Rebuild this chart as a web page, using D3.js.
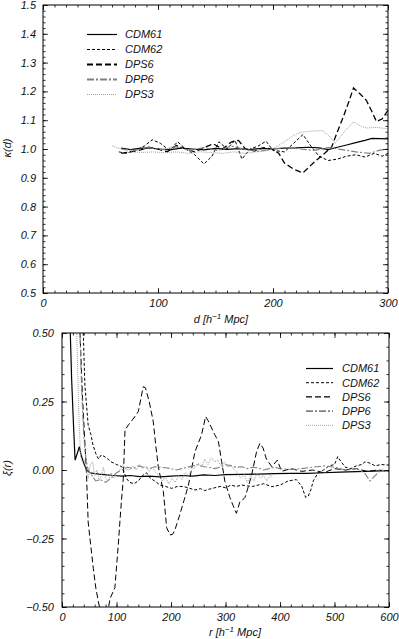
<!DOCTYPE html>
<html>
<head>
<meta charset="utf-8">
<script src="https://cdn.jsdelivr.net/npm/d3@7"></script>
<style>
  body { margin: 0; background: #fff; }
  svg text { font-family: "Liberation Sans", Arial, sans-serif; font-style: italic; font-size: 11px; fill: #111; }
</style>
</head>
<body>
<svg id="chart" width="399" height="639"></svg>
<script>
const seriesNames = ["CDM61", "CDM62", "DPS6", "DPP6", "DPS3"];

// top panel: kappa(d), pairs of [d, kappa]
const topCDM61 = [[68,1.003],[76,0.998],[84,1.002],[92,1.004],[100,1.0],[110,0.997],[120,1.003],[130,1.0],[140,0.997],[150,1.002],[160,0.999],[170,1.001],[180,0.998],[190,1.002],[200,1.0],[210,1.003],[220,1.004],[230,1.006],[240,1.004],[248,0.998],[256,1.006],[264,1.014],[272,1.022],[280,1.03],[286,1.037],[293,1.036],[300,1.035]];
const topCDM62 = [[66,0.99],[72,0.985],[80,0.995],[88,1.01],[95,1.032],[102,1.02],[110,0.995],[117,1.025],[124,1.0],[132,0.98],[140,0.948],[147,0.975],[153,1.025],[160,1.0],[167,1.03],[173,0.965],[180,1.0],[187,1.01],[194,1.027],[200,0.995],[210,0.99],[218,1.02],[226,1.05],[233,1.01],[240,0.975],[248,0.96],[256,0.965],[264,0.975],[272,0.98],[280,0.972],[288,0.985],[295,0.975],[300,0.985]];
const topDPS6 = [[68,0.985],[76,0.99],[84,0.996],[92,1.006],[100,1.0],[108,0.99],[116,1.012],[124,1.0],[132,0.99],[140,1.005],[148,1.018],[156,1.0],[164,1.025],[170,1.03],[176,1.0],[184,0.993],[192,1.005],[200,0.998],[205,0.985],[210,0.951],[218,0.93],[226,0.917],[232,0.94],[238,0.962],[245,0.985],[251,1.007],[256,1.06],[261,1.11],[266,1.165],[270,1.212],[276,1.19],[281,1.17],[286,1.13],[290,1.095],[295,1.105],[300,1.135]];
const topDPP6 = [[68,1.0],[80,0.995],[92,1.005],[104,0.998],[116,1.008],[128,0.995],[140,1.005],[152,0.995],[164,1.01],[176,0.998],[188,0.992],[200,1.0],[212,1.005],[224,1.0],[236,0.995],[248,1.005],[260,0.998],[272,0.99],[284,0.985],[292,0.995],[300,1.0]];
const topDPS3 = [[60,1.011],[68,1.0],[76,0.99],[86,0.988],[96,0.99],[106,0.987],[116,0.99],[126,0.985],[136,0.99],[146,0.988],[156,0.985],[166,0.99],[176,0.985],[186,0.99],[196,0.995],[203,1.008],[210,1.025],[217,1.045],[223,1.057],[233,1.062],[243,1.064],[249,1.045],[254,1.02],[262,1.06],[270,1.094],[276,1.08],[281,1.073],[290,1.075],[296,1.072],[300,1.07]];

// bottom panel: xi(r), pairs of [r, xi]
const botCDM61 = [[8,2.0],[12,1.0],[14.5,0.55],[17.7,0.33],[21,0.17],[24,0.036],[28,0.06],[31.8,0.085],[35,0.055],[39,0.03],[45,0.0],[51,-0.01],[57.5,-0.012],[68,-0.015],[82,-0.018],[95,-0.02],[110,-0.022],[125,-0.02],[143,-0.024],[160,-0.022],[180,-0.025],[200,-0.022],[220,-0.02],[240,-0.022],[260,-0.018],[280,-0.02],[300,-0.017],[330,-0.016],[360,-0.015],[390,-0.013],[420,-0.012],[450,-0.012],[480,-0.01],[510,-0.008],[540,-0.006],[570,-0.004],[600,-0.002]];
const botCDM62 = [[10,3.0],[25,1.6],[35,0.75],[39,0.5],[42,0.31],[48,0.164],[53,0.13],[57,0.09],[62,0.06],[67,0.04],[72,0.055],[77,0.05],[82,0.044],[90,0.03],[100,0.02],[110,0.012],[118,-0.03],[124,-0.045],[132,-0.05],[140,-0.04],[148,-0.02],[155,-0.01],[162,-0.03],[170,-0.04],[180,-0.055],[190,-0.06],[201,-0.067],[212,-0.06],[222,-0.06],[232,-0.065],[244,-0.073],[254,-0.068],[262,-0.075],[270,-0.07],[280,-0.065],[290,-0.06],[300,-0.065],[310,-0.055],[320,-0.06],[330,-0.055],[340,-0.058],[350,-0.06],[360,-0.055],[370,-0.05],[385,-0.061],[400,-0.055],[415,-0.04],[430,-0.035],[440,-0.06],[447,-0.1],[452,-0.095],[457,-0.07],[461,-0.04],[470,-0.01],[480,0.0],[490,0.015],[500,0.02],[506,0.049],[512,0.03],[520,0.01],[530,0.005],[540,0.015],[550,0.02],[556,0.03],[565,0.025],[575,0.015],[585,0.02],[600,0.018]];
const botDPS6 = [[5,3.0],[15,1.8],[25,0.9],[30,0.6],[33,0.5],[38,0.25],[42,0.1],[45,-0.018],[48,-0.19],[53,-0.28],[57.5,-0.36],[62,-0.43],[66.7,-0.48],[72,-0.53],[78,-0.55],[84,-0.52],[88,-0.47],[97,-0.43],[103,-0.28],[108,-0.14],[112.5,-0.03],[115.6,0.146],[122,0.165],[130,0.185],[140,0.213],[149,0.304],[153,0.3],[160,0.25],[167.5,0.176],[172,0.09],[176.7,0.012],[181,-0.03],[186,-0.079],[192,-0.21],[198,-0.237],[203,-0.235],[207,-0.22],[216,-0.164],[224,-0.11],[232,-0.055],[244,0.067],[256,0.128],[263.5,0.195],[268,0.18],[274.6,0.153],[280,0.13],[287,0.104],[293,0.03],[299,-0.043],[308,-0.1],[314,-0.13],[320,-0.158],[326.6,-0.115],[331,-0.11],[335.8,-0.1],[342,-0.06],[348,-0.018],[357,0.067],[363,0.097],[369,0.08],[375,0.04],[385,0.012],[395,0.036],[403,-0.005],[420,0.005],[440,-0.005],[460,0.0],[480,-0.01],[500,0.005],[520,0.0],[540,0.005],[560,-0.005],[580,0.0],[600,-0.005]];
const botDPP6 = [[8,3.0],[25,1.0],[30,0.6],[33,0.5],[36,0.3],[40,0.12],[44,0.04],[48,0.0],[55,-0.02],[62,-0.04],[70,-0.035],[80,-0.045],[90,-0.03],[100,-0.01],[110,0.0],[120,0.01],[130,0.005],[140,0.015],[150,0.01],[160,0.005],[170,0.012],[180,0.01],[190,0.008],[200,0.005],[210,0.0],[220,0.005],[230,0.01],[240,0.015],[250,0.02],[260,0.012],[270,0.01],[280,0.005],[290,0.01],[300,0.02],[310,0.015],[320,0.01],[330,0.012],[340,0.005],[350,0.01],[360,0.008],[370,0.0],[380,0.005],[390,0.01],[400,0.005],[420,0.002],[440,0.005],[460,0.01],[480,0.015],[500,0.01],[520,0.0],[540,0.005],[555,-0.01],[565,-0.04],[575,-0.02],[585,0.0],[600,-0.005]];
const botDPS3 = [[8,3.0],[22,1.0],[27,0.5],[31,0.2],[34,0.05],[37,0.03],[40,0.04],[44,0.01],[48,-0.03],[52,0.02],[56,0.03],[60,-0.02],[64,0.0],[68,-0.04],[72,-0.02],[76,0.01],[80,-0.03],[85,-0.04],[90,-0.01],[95,-0.03],[100,-0.01],[106,0.0],[112,0.02],[118,0.0],[124,0.0],[130,0.015],[136,0.0],[142,0.02],[148,0.005],[154,0.015],[160,-0.005],[166,0.01],[172,-0.01],[178,-0.02],[184,-0.04],[190,-0.025],[196,-0.05],[202,-0.03],[208,-0.045],[214,-0.02],[220,-0.035],[226,-0.01],[232,-0.02],[238,0.0],[244,0.01],[250,0.025],[256,0.01],[262,0.04],[268,0.02],[274,0.045],[280,0.03],[286,0.035],[292,0.015],[298,0.03],[304,0.01],[310,0.02],[316,0.0],[322,-0.01],[328,-0.03],[334,-0.015],[340,-0.045],[346,-0.02],[352,-0.04],[358,-0.01],[364,-0.03],[370,-0.02],[376,-0.04],[382,-0.02],[386,-0.025]];

// line looks: width in the top plot, in the bottom plot, and in each legend
const lineStyles = {
  CDM61: {color: "#000", dash: null, wTop: 1.2, wBottom: 1.2, legTop: 1.2, legBottom: 1.2},
  CDM62: {color: "#000", dash: "3,2", wTop: 1, wBottom: 1, legTop: 1, legBottom: 1},
  DPS6:  {color: "#000", dash: "6,3", wTop: 1.3, wBottom: 1, legTop: 2, legBottom: 1.1},
  DPP6:  {color: "#808080", dash: "7,2,2,2", wTop: 1.2, wBottom: 1.1, legTop: 1.8, legBottom: 1.8},
  DPS3:  {color: "#a0a0a0", dash: "1,1", wTop: 1, wBottom: 1, legTop: 1, legBottom: 1}
};

const svg = d3.select("#chart");

function drawPanel(p) {
  const x = d3.scaleLinear().domain(p.xDomain).range([p.left, p.right]);
  const y = d3.scaleLinear().domain(p.yDomain).range([p.bottom, p.top]);
  const g = svg.append("g");

  // clip
  g.append("clipPath").attr("id", p.id + "-clip")
    .append("rect")
    .attr("x", p.left).attr("y", p.top)
    .attr("width", p.right - p.left).attr("height", p.bottom - p.top);

  // lines
  const line = d3.line().x(d => x(d[0])).y(d => y(d[1]));
  const lines = g.append("g").attr("clip-path", "url(#" + p.id + "-clip)");
  seriesNames.forEach((name, i) => {
    const st = lineStyles[name];
    lines.append("path")
      .datum(p.data[i])
      .attr("d", line)
      .attr("fill", "none")
      .attr("stroke", st.color)
      .attr("stroke-width", p.bottomPanel ? st.wBottom : st.wTop)
      .attr("stroke-dasharray", st.dash);
  });

  // axes, ticks inward on all sides
  const axes = [
    [d3.axisBottom(x).tickValues(p.xMajor).tickSize(-5).tickPadding(6).tickFormat(p.xFmt), `translate(0,${p.bottom})`],
    [d3.axisBottom(x).tickValues(p.xMinor).tickSize(-2.5).tickFormat(""), `translate(0,${p.bottom})`],
    [d3.axisTop(x).tickValues(p.xMajor).tickSize(-5).tickFormat(""), `translate(0,${p.top})`],
    [d3.axisTop(x).tickValues(p.xMinor).tickSize(-2.5).tickFormat(""), `translate(0,${p.top})`],
    [d3.axisLeft(y).tickValues(p.yMajor).tickSize(-5).tickPadding(p.yPad).tickFormat(p.yFmt), `translate(${p.left},0)`],
    [d3.axisLeft(y).tickValues(p.yMinor).tickSize(-2.5).tickFormat(""), `translate(${p.left},0)`],
    [d3.axisRight(y).tickValues(p.yMajor).tickSize(-5).tickFormat(""), `translate(${p.right},0)`],
    [d3.axisRight(y).tickValues(p.yMinor).tickSize(-2.5).tickFormat(""), `translate(${p.right},0)`]
  ];
  axes.forEach(a => {
    const ag = g.append("g").attr("transform", a[1]).call(a[0]);
    ag.select(".domain").remove();
    ag.selectAll("line").attr("stroke", "#000").attr("stroke-width", 0.8);
  });

  // frame
  g.append("rect")
    .attr("x", p.left).attr("y", p.top)
    .attr("width", p.right - p.left).attr("height", p.bottom - p.top)
    .attr("fill", "none").attr("stroke", "#000").attr("stroke-width", 1);

  // axis titles
  const xt = g.append("text").attr("x", p.xTitleX).attr("y", p.xTitleY).attr("text-anchor", "middle");
  xt.append("tspan").text(p.xVar + " [h");
  xt.append("tspan").attr("dy", -4).style("font-size", "8px").text("−1");
  xt.append("tspan").attr("dy", 4).text(" Mpc]");

  g.append("text")
    .attr("transform", `translate(${p.yTitleX},${p.yTitleY}) rotate(-90)`)
    .attr("text-anchor", "middle")
    .text(p.yTitle);

  // legend
  seriesNames.forEach((name, i) => {
    const st = lineStyles[name];
    const ly = p.legY + i * p.legStep;
    g.append("line")
      .attr("x1", p.legX1).attr("x2", p.legX2).attr("y1", ly).attr("y2", ly)
      .attr("stroke", st.color)
      .attr("stroke-width", p.bottomPanel ? st.legBottom : st.legTop)
      .attr("stroke-dasharray", st.dash);
    g.append("text").attr("x", p.legTx).attr("y", ly).attr("dy", "0.35em").text(name);
  });
}

drawPanel({
  id: "top", left: 43, right: 388, top: 5, bottom: 293,
  xDomain: [0, 300], yDomain: [0.5, 1.5],
  xMajor: [0, 100, 200, 300], xMinor: d3.range(0, 301, 10),
  yMajor: d3.range(5, 16).map(v => v / 10), yMinor: d3.range(25, 76).map(v => v / 50),
  xFmt: d3.format("d"), yFmt: d3.format(".1f"), yPad: 7,
  data: [topCDM61, topCDM62, topDPS6, topDPP6, topDPS3],
  xVar: "d", xTitleX: 221, xTitleY: 323,
  yTitle: "κ(d)", yTitleX: 11, yTitleY: 148,
  legX1: 87, legX2: 117, legTx: 125, legY: 34.5, legStep: 15,
  bottomPanel: false
});

drawPanel({
  id: "bot", left: 62, right: 389, top: 333, bottom: 607,
  xDomain: [0, 600], yDomain: [-0.5, 0.5],
  xMajor: d3.range(0, 601, 100), xMinor: d3.range(0, 601, 20),
  yMajor: [-0.5, -0.25, 0, 0.25, 0.5], yMinor: d3.range(-10, 11).map(v => v / 20),
  xFmt: d3.format("d"), yFmt: d3.format(".2f"), yPad: 8,
  data: [botCDM61, botCDM62, botDPS6, botDPP6, botDPS3],
  xVar: "r", xTitleX: 235, xTitleY: 636,
  yTitle: "ξ(r)", yTitleX: 11, yTitleY: 468,
  legX1: 306, legX2: 333, legTx: 342, legY: 368.5, legStep: 14.2,
  bottomPanel: true
});
</script>
</body>
</html>
